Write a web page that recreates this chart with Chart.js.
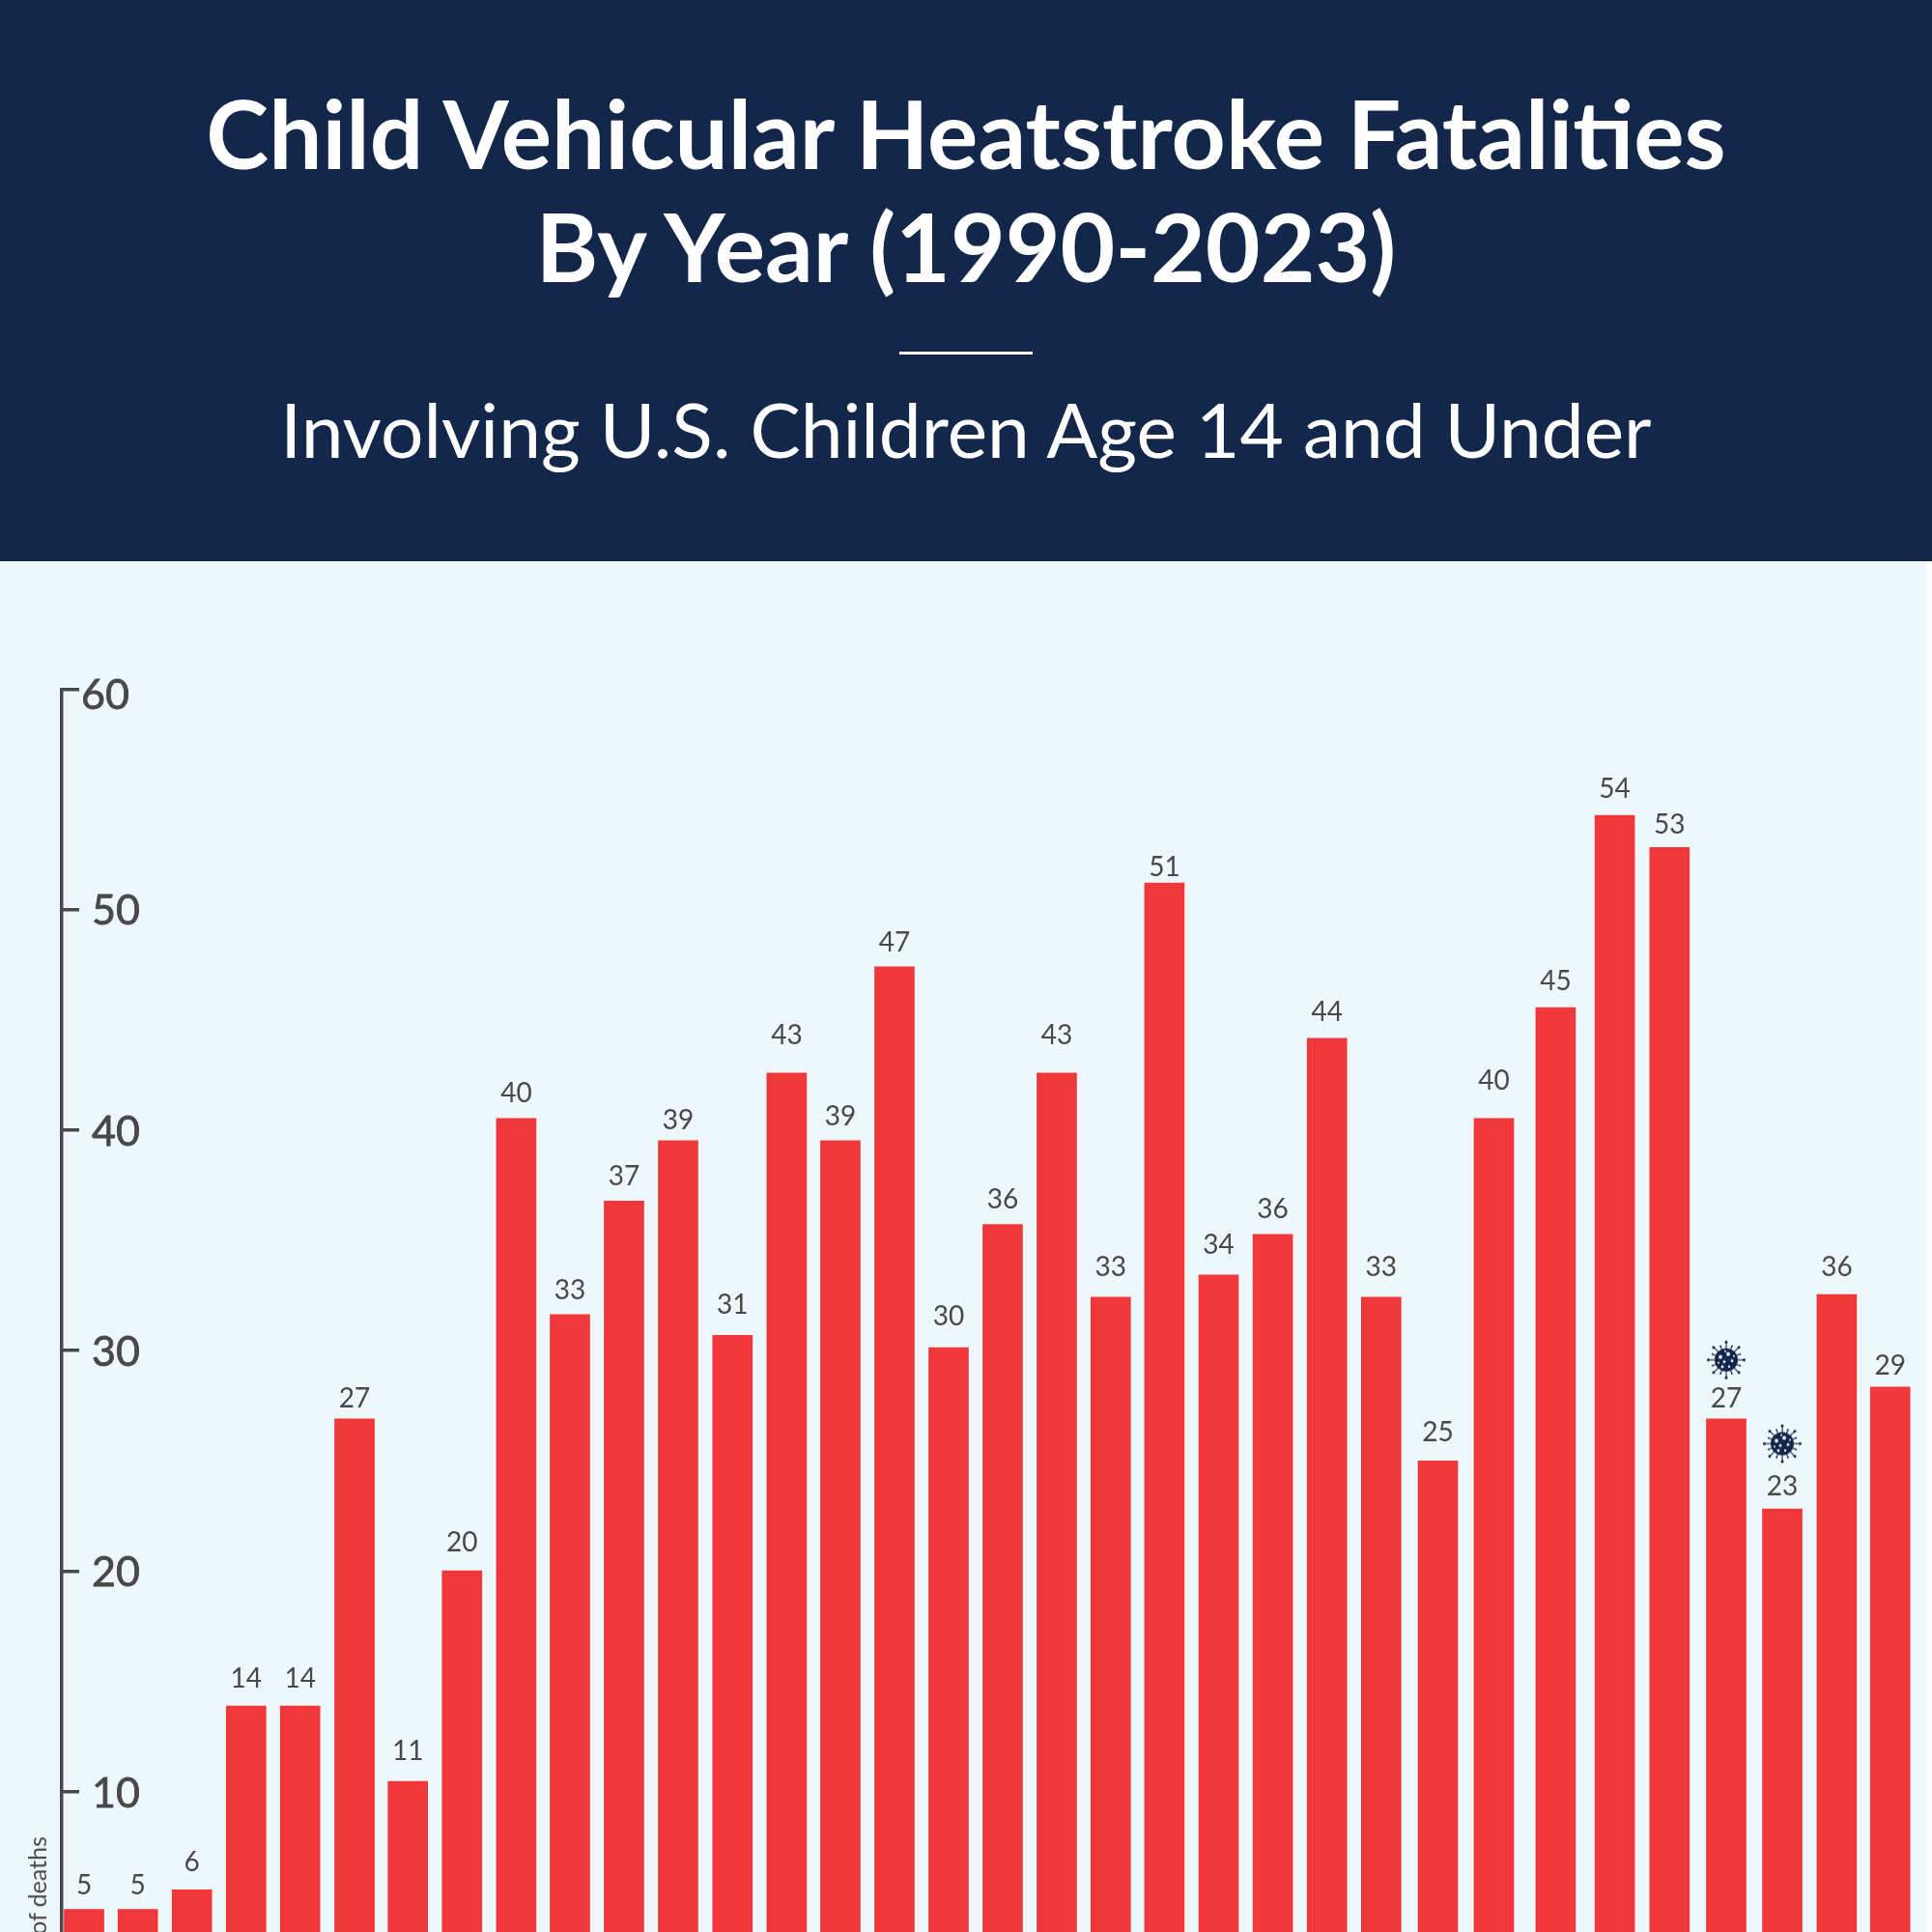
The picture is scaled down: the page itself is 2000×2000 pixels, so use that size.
<!DOCTYPE html>
<html><head><meta charset="utf-8">
<style>
html,body{margin:0;padding:0;width:2000px;height:2000px;overflow:hidden;background:#EEF7FC;font-family:Lato,sans-serif}
#band{position:absolute;left:0;top:0;width:2000px;height:581px;background:#12274A;color:#fff;text-align:center}
#t1,#t2{position:absolute;left:0;width:2000px;font-weight:700;font-size:98px;line-height:116px;white-space:nowrap}
#t1{top:79px}#t2{top:196px}
#rule{position:absolute;left:931px;top:364px;width:138px;height:3px;background:#fff}
#sub{position:absolute;left:0;top:397px;width:2000px;font-size:78.4px;line-height:94px;white-space:nowrap}
#strip{position:absolute;left:1995px;top:581px;width:5px;height:1419px;background:#fff}
#ylab{position:absolute;left:38px;top:1952px;font-size:25px;line-height:30px;color:#4a4a4a;white-space:nowrap;transform:translate(-50%,-50%) rotate(-90deg)}
#c{position:absolute;left:0;top:0}
</style>
<script src="https://cdn.jsdelivr.net/npm/chart.js@4/dist/chart.umd.js"></script>
</head><body>
<div id="band"><div id="t1">Child Vehicular Heatstroke Fatalities</div><div id="t2">By Year (1990-2023)</div><div id="rule"></div><div id="sub">Involving U.S. Children Age 14 and Under</div></div>
<div id="strip"></div>
<canvas id="c" width="2000" height="2100" style="width:2000px;height:2100px"></canvas>
<div id="ylab">of deaths</div>
<script>
const years=[1990,1991,1992,1993,1994,1995,1996,1997,1998,1999,2000,2001,2002,2003,2004,2005,2006,2007,2008,2009,2010,2011,2012,2013,2014,2015,2016,2017,2018,2019,2020,2021,2022,2023].map(String);
const barHeights=[4.66,4.66,5.55,13.88,13.88,26.9,10.47,20.02,40.53,31.64,36.78,39.52,30.69,42.59,39.52,47.4,30.13,35.72,42.59,32.42,51.2,33.43,35.27,44.16,32.42,25.0,40.53,45.55,54.27,52.82,26.9,22.82,32.54,28.35];
const printedValues=[5,5,6,14,14,27,11,20,40,33,37,39,31,43,39,47,30,36,43,33,51,34,36,44,33,25,40,45,54,53,27,23,36,29];
const printedLevels=[5.83,5.83,6.89,15.22,15.22,27.9,11.92,21.36,41.75,32.82,37.96,40.53,32.15,44.38,40.69,48.57,31.64,36.95,44.38,33.88,51.98,34.88,36.5,45.44,33.88,26.39,42.31,46.84,55.55,53.93,27.9,23.93,33.88,29.41];
const covidMarks=[null,null,null,null,null,null,null,null,null,null,null,null,null,null,null,null,null,null,null,null,null,null,null,null,null,null,null,null,null,null,29.58,25.78,null,null];
const yTicks=[0,10,20,30,40,50,60];

const NAVY='#12274A',RED='#F0383A',INK='#484848';

class PrintedYearScale extends Chart.CategoryScale{
  static id='printedYear';
  static defaults=Chart.CategoryScale.defaults;
  getPixelForValue(v){
    const i=typeof v==='number'?v:this.parse(v);
    if(i===null) return NaN;
    const d=this.options.driftPx||[];
    return super.getPixelForValue(i)+(d[Math.round(i)]||0);
  }
}
Chart.register(PrintedYearScale);

function virus(){
  const s=44,c=document.createElement('canvas');c.width=c.height=s;
  const g=c.getContext('2d'),m=s/2;
  g.fillStyle=NAVY;g.strokeStyle=NAVY;
  g.beginPath();g.arc(m,m,12,0,7);g.fill();
  for(let k=0;k<16;k++){
    const a=k*Math.PI/8,r=k%2?15.5:18.5;
    g.lineWidth=1.1;g.beginPath();g.moveTo(m+11*Math.cos(a),m+11*Math.sin(a));g.lineTo(m+r*Math.cos(a),m+r*Math.sin(a));g.stroke();
    g.beginPath();g.arc(m+r*Math.cos(a),m+r*Math.sin(a),k%2?0.9:1.5,0,7);g.fill();
  }
  g.fillStyle='#EEF7FC';
  [[-6,-3,1.9],[2,-6,2],[6,1,1.4],[-2,2,1.4],[-4,7,1.5],[3,7,1.2],[-8,3,1],[8,-4,1],[-1,-9,1]].forEach(p=>{g.beginPath();g.arc(m+p[0],m+p[1],p[2],0,7);g.fill();});
  return c;
}

const printedLabels={
  id:'printedLabels',
  beforeDraw(chart){
    chart.scales.y.getLabelItems().forEach(o=>{
      const t=o.options.translation;
      o.options.translation=o.label==='60'?[t[0]-11,t[1]+7]:[t[0],t[1]+2];
    });
  },
  afterDatasetsDraw(chart){
    const m=chart.getDatasetMeta(1),g=chart.ctx;
    g.save();g.font='28px Lato';g.fillStyle=INK;g.textAlign='center';g.textBaseline='middle';
    m.data.forEach((p,i)=>g.fillText(String(printedValues[i]),p.x,p.y+2));
    g.restore();
  }
};

new Chart(document.getElementById('c'),{
  data:{labels:years,datasets:[
    {type:'bar',data:barHeights,backgroundColor:RED,borderWidth:0,barThickness:41,clip:false,order:2},
    {type:'line',data:printedLevels,showLine:false,pointRadius:0,order:1},
    {type:'line',data:covidMarks,showLine:false,pointStyle:virus(),pointRadius:22,spanGaps:false,clip:false,order:0}
  ]},
  options:{
    responsive:false,animation:false,devicePixelRatio:1,
    layout:{autoPadding:false,padding:{top:713.3,right:32,bottom:17,left:0}},
    plugins:{legend:{display:false},tooltip:{enabled:false},title:{display:false}},
    scales:{
      x:{type:'printedYear',display:false,offset:true,
         driftPx:[-5,-5.3,-5.3,-5.2,-5.3,-5,-5.8,-5.7,-5.6,-6,-6,-6,-5.7,-5.6,-6,-6,-6,-6,-6,-6.2,-6.6,-6.5,-6.4,-6.3,-6.2,-3.5,-1.5,6.4,11.6,12.3,15,17,17.4,16.7]},
      y:{position:'left',min:0,max:60,
         afterFit(s){s.width=64;s.paddingTop=0;s.paddingBottom=0;},
         afterBuildTicks(s){s.ticks=yTicks.map(v=>({value:v}));},
         border:{display:true,color:INK,width:3.5},
         grid:{drawOnChartArea:false,drawTicks:true,tickLength:-18,color:INK,lineWidth:3.5},
         ticks:{mirror:true,padding:31,color:INK,font:{family:'Lato',size:43},textStrokeColor:INK,textStrokeWidth:0.8,callback:v=>String(v)}
      }
    }
  },
  plugins:[printedLabels]
});
</script>
</body></html>
